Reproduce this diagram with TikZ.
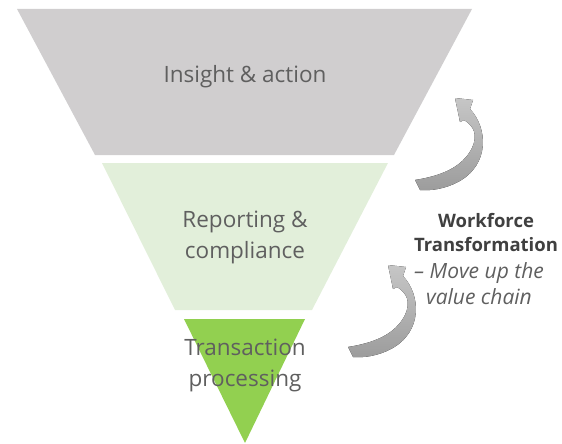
\documentclass[tikz,border=0pt]{standalone}
\usepackage{fontspec}
\setmainfont{Open Sans}
\definecolor{grayfill}{HTML}{D0CECF}
\definecolor{lightgreen}{HTML}{E2EFDA}
\definecolor{brightgreen}{HTML}{92D050}
\definecolor{labeltext}{HTML}{5F5F5F}
\definecolor{darktext}{HTML}{404040}
\definecolor{arrowlight}{HTML}{C6C6C6}
\definecolor{arrowdark}{HTML}{9C9C9C}
\begin{document}
\begin{tikzpicture}[x=1pt,y=-1pt,
  label/.style={text=labeltext,font=\fontsize{22.5}{31}\selectfont,align=center,inner sep=0pt},
  sidetitle/.style={text=darktext,font=\fontsize{18.5}{24}\selectfont\bfseries,align=center,inner sep=0pt},
  sidesub/.style={text=labeltext,font=\fontsize{21}{26}\selectfont\itshape,align=center,inner sep=0pt},
  pics/curvedarrow/.style={code={
    \fill[top color=arrowlight,bottom color=arrowdark]
      (0,0) -- (18,2) -- (15,11)
      .. controls (33,30) and (35,67) .. (3,84)
      .. controls (-10,91) and (-25,93) .. (-35,92)
      -- (-40,82)
      .. controls (-15,78) and (7,70) .. (17,50)
      .. controls (23,37) and (19,28) .. (9,22)
      -- (5,24) -- cycle;
  }}
]
\useasboundingbox (0,0) rectangle (562,444);
\fill[grayfill] (17,9) -- (472,9) -- (394,155) -- (95,155) -- cycle;
\fill[lightgreen] (102,163) -- (388,163) -- (312,310) -- (175,310) -- cycle;
\fill[brightgreen] (184,319) -- (305,319) -- (245,443) -- cycle;
\node[label] (insight) at (245,77) {Insight \& action};
\node[label] (reporting) at (245,237) {Reporting \&\\compliance};
\node[label] (transaction) at (245,365) {Transaction\\processing};
\node[sidetitle] (wf) at (486,233) {Workforce\\Transformation};
\node[sidesub] (move) at (479,284) {– Move up the\\value chain};
\pic (upperarrow) at (455,98) {curvedarrow};
\pic (lowerarrow) at (388,265) {curvedarrow};
\end{tikzpicture}
\end{document}
